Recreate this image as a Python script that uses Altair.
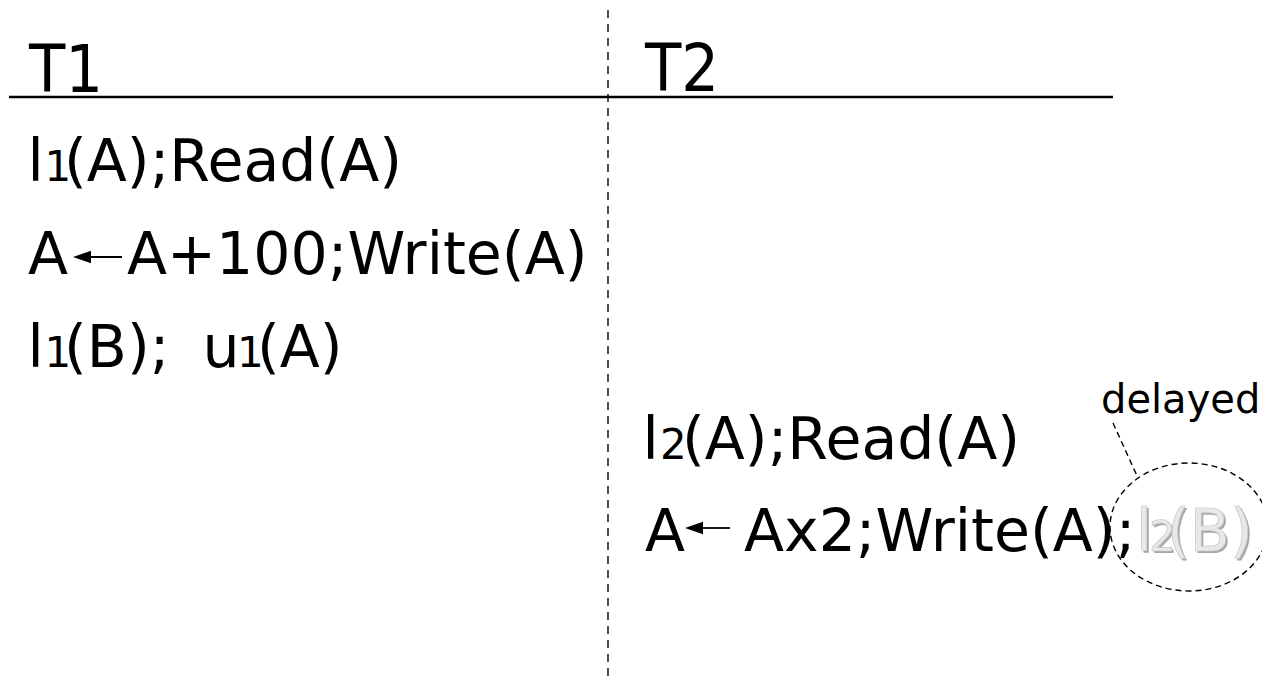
import altair as alt
import pandas as pd

FONT = "DejaVu Sans"
HEAD_FONT = "DejaVu Sans Condensed, DejaVu Sans"

# Text segments of the schedule (text, role)
seg_text = ["l", "1", "(A);Read(A)",
            "A", "A+100;Write(A)",
            "l", "1", "(B);", "u", "1", "(A)",
            "l", "2", "(A);Read(A)",
            "A", "Ax2;Write(A);",
            "delayed"]
seg_role = ["main", "sub", "main",
            "main", "main",
            "main", "sub", "main", "main", "sub", "main",
            "main", "sub", "main",
            "main", "main",
            "note"]
# layout (pixel positions of each segment)
seg_x = [27.5, 44.5, 64,
         28, 127,
         27.5, 44.5, 64, 202.5, 237, 257,
         642.5, 660, 682,
         645, 744,
         1101]
seg_y = [181, 181, 181,
         274, 274,
         367, 367, 367, 367, 367, 367,
         459, 459, 459,
         551, 551,
         413]
role_size = {"main": 58.5, "sub": 42, "note": 40}

head_text = ["T1", "T2"]
head_x = [29, 645]
head_y = [92, 91]

# delayed lock request (greyed out)
grey_text = ["l", "2", "(B)"]
grey_role = ["main", "sub", "main"]
grey_x = [1136, 1149, 1167]
grey_y = [551, 551, 551]

texts = pd.DataFrame({"text": seg_text, "x": seg_x, "y": seg_y,
                      "size": [role_size[r] for r in seg_role]})
heads_df = pd.DataFrame({"text": head_text, "x": head_x, "y": head_y})
greys = pd.DataFrame({"text": grey_text, "x": grey_x, "y": grey_y,
                      "size": [role_size[r] for r in grey_role]})
shadow = greys.assign(x=greys["x"] + 2, y=greys["y"] + 2)

X = alt.X("x:Q", scale=alt.Scale(domain=[8, 1262], nice=False, zero=False), axis=None)
Y = alt.Y("y:Q", scale=alt.Scale(domain=[8, 677], nice=False, zero=False, reverse=True), axis=None)

head_layer = alt.Chart(heads_df).mark_text(align="left", baseline="alphabetic", font=HEAD_FONT,
                                           color="black", fontSize=66).encode(x=X, y=Y, text="text:N")

text_layer = alt.Chart(texts).mark_text(align="left", baseline="alphabetic", font=FONT, color="black").encode(
    x=X, y=Y, text="text:N", size=alt.Size("size:Q", scale=None))

shadow_layer = alt.Chart(shadow).mark_text(align="left", baseline="alphabetic", font=FONT, color="#a8a8a8").encode(
    x=X, y=Y, text="text:N", size=alt.Size("size:Q", scale=None))
grey_layer = alt.Chart(greys).mark_text(align="left", baseline="alphabetic", font=FONT, color="#e8e8e8",
                                        stroke="#c8c8c8", strokeWidth=0.7).encode(
    x=X, y=Y, text="text:N", size=alt.Size("size:Q", scale=None))

# header underline
hline = alt.Chart(pd.DataFrame({"x": [9], "x2": [1113], "y": [97]})).mark_rule(
    color="black", strokeWidth=2.5).encode(x=X, x2="x2:Q", y=Y)

# dashed separator between transactions
vline = alt.Chart(pd.DataFrame({"x": [608], "y": [10], "y2": [677]})).mark_rule(
    color="#222222", strokeWidth=1.6, strokeDash=[8, 6]).encode(x=X, y=Y, y2="y2:Q")

# assignment arrows
arrows = pd.DataFrame({"x": [88, 700], "x2": [122, 730], "y": [257, 528]})
arrow_lines = alt.Chart(arrows).mark_rule(color="black", strokeWidth=1.8).encode(x=X, x2="x2:Q", y=Y)
heads = pd.DataFrame({"x": [82, 694], "y": [257, 528]})
arrow_heads = alt.Chart(heads).mark_point(
    shape="M -1 0 L 1 -0.7 L 1 0.7 Z", filled=True, color="black", size=324, opacity=1).encode(x=X, y=Y)

# "delayed" callout: leader and dashed ellipse
leader = alt.Chart(pd.DataFrame({"x": [1113], "y": [423], "x2": [1138], "y2": [478]})).mark_rule(
    color="black", strokeWidth=1.4, strokeDash=[6, 4]).encode(x=X, y=Y, x2="x2:Q", y2="y2:Q")
ellipse = alt.Chart(pd.DataFrame({"x": [1189], "y": [527]})).mark_point(
    shape="M 1 0 A 1 0.81 0 1 1 -1 0 A 1 0.81 0 1 1 1 0 Z", filled=False, color="black",
    strokeWidth=1.4, strokeDash=[6, 4], size=24964, opacity=1).encode(x=X, y=Y)

chart = alt.layer(vline, hline, arrow_lines, arrow_heads, leader, ellipse,
                  head_layer, text_layer, shadow_layer, grey_layer).properties(
    width=1254, height=669, padding=0,
    autosize=alt.AutoSizeParams(type="none")
).configure_view(stroke=None)

chart.save("out.html", embed_options={"renderer": "svg", "actions": False})
